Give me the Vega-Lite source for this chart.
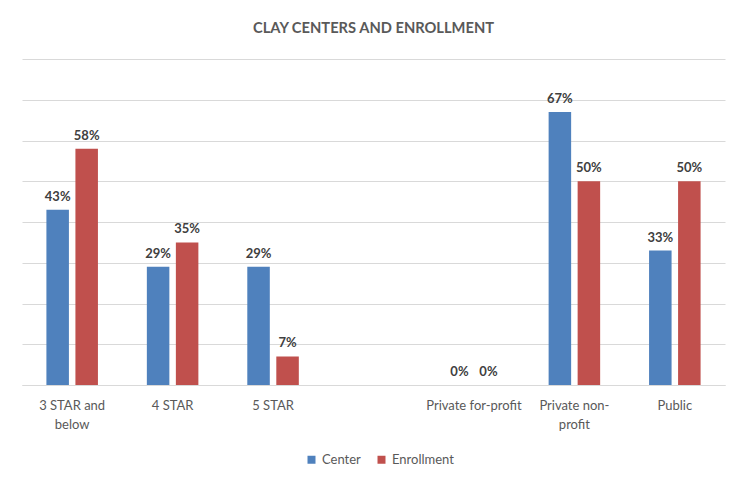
{
  "$schema": "https://vega.github.io/schema/vega-lite/v6.json",
  "width": 703,
  "height": 326,
  "autosize": {"type": "none"},
  "padding": {"left": 22, "top": 59, "right": 7, "bottom": 94},
  "background": "white",
  "title": {"text": "CLAY CENTERS AND ENROLLMENT", "font": "Lato", "fontSize": 14.7, "fontWeight": "bold", "color": "#595959", "offset": 23, "anchor": "middle"},
  "data": {
    "values": [
      {"category": "3 STAR and below", "series": "Center", "value": 0.43},
      {"category": "3 STAR and below", "series": "Enrollment", "value": 0.58},
      {"category": "4 STAR", "series": "Center", "value": 0.29},
      {"category": "4 STAR", "series": "Enrollment", "value": 0.35},
      {"category": "5 STAR", "series": "Center", "value": 0.29},
      {"category": "5 STAR", "series": "Enrollment", "value": 0.07},
      {"category": "Private for-profit", "series": "Center", "value": 0},
      {"category": "Private for-profit", "series": "Enrollment", "value": 0},
      {"category": "Private non-profit", "series": "Center", "value": 0.67},
      {"category": "Private non-profit", "series": "Enrollment", "value": 0.50},
      {"category": "Public", "series": "Center", "value": 0.33},
      {"category": "Public", "series": "Enrollment", "value": 0.50}
    ]
  },
  "encoding": {
    "x": {
      "field": "category", "type": "nominal", "sort": null,
      "scale": {"domain": ["3 STAR and below", "4 STAR", "5 STAR", " ", "Private for-profit", "Private non-profit", "Public"], "paddingInner": 0.487, "paddingOuter": 0.243},
      "axis": {
        "title": null, "ticks": false, "domainColor": "#D9D9D9", "labelAngle": 0,
        "labelFont": "Lato", "labelFontSize": 13, "labelColor": "#595959", "labelPadding": 14, "labelLineHeight": 19.5,
        "labelExpr": "datum.value == '3 STAR and below' ? ['3 STAR and', 'below'] : datum.value == 'Private non-profit' ? ['Private non-', 'profit'] : datum.value"
      }
    },
    "xOffset": {"field": "series", "type": "nominal", "scale": {"domain": ["Center", "Enrollment"], "paddingInner": 0.224, "paddingOuter": 0}},
    "y": {
      "field": "value", "type": "quantitative",
      "scale": {"domain": [0, 0.8]},
      "axis": {"title": null, "labels": false, "ticks": false, "domain": false, "gridColor": "#D9D9D9", "values": [0, 0.1, 0.2, 0.3, 0.4, 0.5, 0.6, 0.7, 0.8]}
    }
  },
  "layer": [
    {
      "mark": {"type": "bar"},
      "encoding": {
        "color": {
          "field": "series", "type": "nominal",
          "scale": {"domain": ["Center", "Enrollment"], "range": ["#4F81BD", "#C0504D"]},
          "legend": {"orient": "none", "legendX": 283, "legendY": 394, "direction": "horizontal", "padding": 0, "title": null, "symbolType": "square", "symbolSize": 64, "labelFont": "Lato", "labelFontSize": 13, "labelColor": "#595959", "columnPadding": 14, "labelOffset": 4}
        }
      }
    },
    {
      "mark": {"type": "text", "baseline": "bottom", "dy": -6, "font": "Lato", "fontSize": 13, "fontWeight": "bold", "color": "#404040"},
      "encoding": {"text": {"field": "value", "type": "quantitative", "format": ".0%"}}
    }
  ],
  "config": {"view": {"stroke": null}}
}
